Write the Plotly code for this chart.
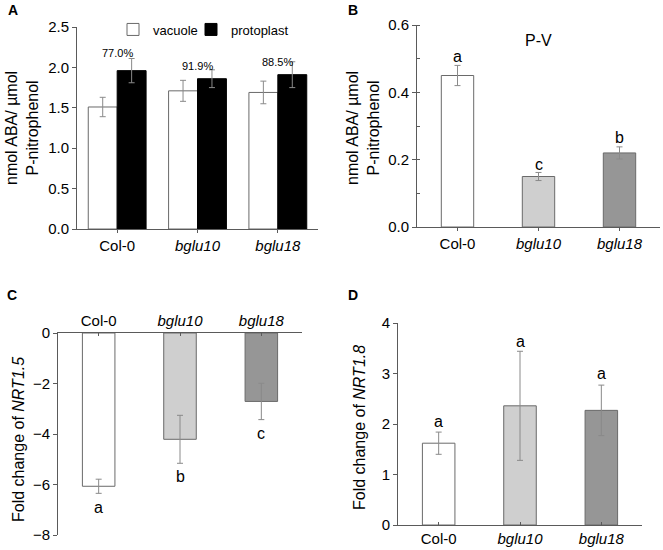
import plotly.graph_objects as go

# ---------------- data ----------------
categories = ["Col-0", "bglu10", "bglu18"]
tick_labels = ["Col-0", "<i>bglu10</i>", "<i>bglu18</i>"]

# Panel A
a_vacuole = [1.51, 1.71, 1.69]
a_vacuole_err = [0.12, 0.13, 0.14]
a_protoplast = [1.96, 1.86, 1.91]
a_protoplast_err = [0.15, 0.11, 0.16]
a_pct_labels = ["77.0%", "91.9%", "88.5%"]
a_pct_y = [2.18, 2.02, 2.07]

# Panel B (P-V)
b_values = [0.45, 0.15, 0.22]
b_err = [0.03, 0.012, 0.018]
b_letters = ["a", "c", "b"]
b_letter_y = [0.505, 0.187, 0.265]

# Panel C (NRT1.5)
c_values = [-6.07, -4.21, -2.71]
c_err = [0.28, 0.95, 0.72]
c_letters = ["a", "b", "c"]
c_letter_y = [-6.9, -5.67, -3.97]

# Panel D (NRT1.8)
d_values = [1.62, 2.36, 2.27]
d_err = [0.22, 1.08, 0.5]
d_letters = ["a", "a", "a"]
d_letter_y = [2.05, 3.64, 3.0]

# ---------------- style ----------------
FONT = "Liberation Sans, Arial, sans-serif"
AXC = "#5a5a5a"
OUT = "#6a6a6a"
ERRC = "#8a8a8a"
bar_fill = ["#ffffff", "#cfcfcf", "#969696"]
W, H = 663, 550


def dom_x(a, b):
    return [a / W, b / W]


def dom_y(top, bottom):
    return [1 - bottom / H, 1 - top / H]


fig = go.Figure()

err_style = dict(color=ERRC, thickness=1, width=3)

# Panel A
fig.add_trace(go.Bar(x=categories, y=a_vacuole, name="vacuole", width=0.36, offset=-0.36,
                     marker=dict(color="#ffffff", line=dict(color=OUT, width=1)),
                     error_y=dict(type="data", array=a_vacuole_err, **err_style),
                     xaxis="x", yaxis="y", showlegend=True, legend="legend"))
fig.add_trace(go.Bar(x=categories, y=a_protoplast, name="protoplast", width=0.36, offset=0,
                     marker=dict(color="#000000", line=dict(color="#000000", width=1)),
                     error_y=dict(type="data", array=a_protoplast_err, **err_style),
                     xaxis="x", yaxis="y", showlegend=True, legend="legend2"))

# Panel B
fig.add_trace(go.Bar(x=categories, y=b_values, width=0.4,
                     marker=dict(color=bar_fill, line=dict(color=OUT, width=1)),
                     error_y=dict(type="data", array=b_err, **err_style),
                     xaxis="x2", yaxis="y2", showlegend=False))
# Panel C
fig.add_trace(go.Bar(x=categories, y=c_values, width=0.4,
                     marker=dict(color=bar_fill, line=dict(color=OUT, width=1)),
                     error_y=dict(type="data", array=c_err, **err_style),
                     xaxis="x3", yaxis="y3", showlegend=False))
# Panel D
fig.add_trace(go.Bar(x=categories, y=d_values, width=0.4,
                     marker=dict(color=bar_fill, line=dict(color=OUT, width=1)),
                     error_y=dict(type="data", array=d_err, **err_style),
                     xaxis="x4", yaxis="y4", showlegend=False))

tickfont = dict(family=FONT, size=15, color="#000")

xbase = dict(type="category", range=[-0.5, 2.5], showline=True, linecolor=AXC, linewidth=1,
             ticks="outside", ticklen=3, tickcolor=AXC, tickvals=categories, ticktext=tick_labels,
             tickfont=tickfont, showgrid=False, zeroline=False, fixedrange=True)
ybase = dict(showline=True, linecolor=AXC, linewidth=1, ticks="outside", ticklen=4,
             tickcolor=AXC, tickfont=tickfont, showgrid=False, zeroline=False, fixedrange=True)

annotations = []
title_font = dict(family=FONT, size=16, color="#000")


def ytitle(text, xpx, ymid):
    annotations.append(dict(text=text, xref="paper", yref="paper", x=xpx / W, y=1 - ymid / H,
                            textangle=-90, showarrow=False, font=title_font,
                            xanchor="center", yanchor="middle"))


def plabel(text, xpx, ypx):
    annotations.append(dict(text="<b>" + text + "</b>", xref="paper", yref="paper", x=xpx / W,
                            y=1 - ypx / H, showarrow=False,
                            font=dict(family=FONT, size=14, color="#000"),
                            xanchor="left", yanchor="middle"))


legend_common = dict(orientation="h", yanchor="middle", xanchor="left",
                     font=dict(family=FONT, size=13, color="#000"),
                     bgcolor="rgba(0,0,0,0)", itemwidth=30)

fig.update_layout(
    width=W, height=H, margin=dict(l=0, r=0, t=0, b=0, autoexpand=False),
    paper_bgcolor="white", plot_bgcolor="white", barmode="overlay",
    font=dict(family=FONT, color="#000"),
    xaxis=dict(xbase, domain=dom_x(77, 318), anchor="y"),
    yaxis=dict(ybase, domain=dom_y(27, 229), anchor="x", range=[0, 2.5], dtick=0.5,
               tickformat=".1f"),
    xaxis2=dict(xbase, domain=dom_x(417, 660), anchor="y2"),
    yaxis2=dict(ybase, domain=dom_y(25, 227), anchor="x2", range=[0, 0.6], dtick=0.2,
                tickformat=".1f",
                minor=dict(dtick=0.1, ticks="inside", ticklen=3, tickcolor=AXC)),
    xaxis3=dict(xbase, domain=dom_x(58, 302), anchor="y3", side="top", ticks="inside"),
    yaxis3=dict(ybase, domain=dom_y(333, 535), anchor="x3", range=[-8, 0], dtick=2),
    xaxis4=dict(xbase, domain=dom_x(398, 642), anchor="y4", ticks="inside"),
    yaxis4=dict(ybase, domain=dom_y(323, 525), anchor="x4", range=[0, 4], dtick=1),
    legend=dict(legend_common, x=113 / W, y=1 - 29.5 / H),
    legend2=dict(legend_common, x=191 / W, y=1 - 29.5 / H),
)

# percent labels, panel A
for cat, lab, yv in zip(categories, a_pct_labels, a_pct_y):
    annotations.append(dict(text=lab, x=cat, y=yv, xref="x", yref="y", showarrow=False,
                            font=dict(family=FONT, size=11, color="#000"), yanchor="middle"))
# letters
for cat, lab, yv in zip(categories, b_letters, b_letter_y):
    annotations.append(dict(text=lab, x=cat, y=yv, xref="x2", yref="y2", showarrow=False,
                            font=dict(family=FONT, size=16, color="#000"), yanchor="middle"))
for cat, lab, yv in zip(categories, c_letters, c_letter_y):
    annotations.append(dict(text=lab, x=cat, y=yv, xref="x3", yref="y3", showarrow=False,
                            font=dict(family=FONT, size=16, color="#000"), yanchor="middle"))
for cat, lab, yv in zip(categories, d_letters, d_letter_y):
    annotations.append(dict(text=lab, x=cat, y=yv, xref="x4", yref="y4", showarrow=False,
                            font=dict(family=FONT, size=16, color="#000"), yanchor="middle"))

annotations.append(dict(text="P-V", x="bglu10", y=0.555, xref="x2", yref="y2", showarrow=False,
                        font=dict(family=FONT, size=16, color="#000"), yanchor="middle"))

ytitle("nmol ABA/ µmol<br>P-nitrophenol", 22, 128)
ytitle("nmol ABA/ µmol<br>P-nitrophenol", 363, 128)
ytitle("Fold change of <i>NRT1.5</i>", 18, 440)
ytitle("Fold change of <i>NRT1.8</i>", 359, 428)

plabel("A", 6, 10)
plabel("B", 346, 10)
plabel("C", 5, 295)
plabel("D", 346, 295)

fig.update_layout(annotations=annotations)
fig.write_html("out.html",
               config={"displayModeBar": False, "staticPlot": True},
               post_script="document.body.style.margin='0';document.body.style.overflow='hidden';")
